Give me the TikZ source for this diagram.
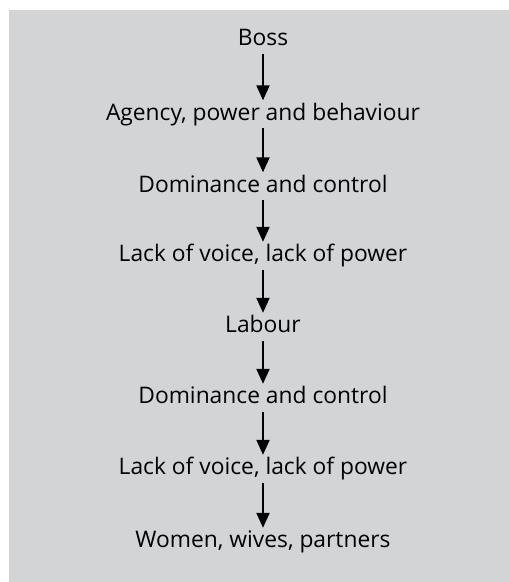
\documentclass[tikz,border=0pt]{standalone}
\usepackage{fontspec}
\setmainfont{Open Sans}
\usetikzlibrary{arrows.meta}
\definecolor{boxgray}{RGB}{211,212,214}

\begin{document}
\begin{tikzpicture}[x=1pt,y=1pt,
  step label/.style={anchor=base,inner sep=0pt,text height=15.5pt,text depth=4pt,font=\fontsize{22.8}{26}\selectfont},
  flow/.style={line width=2pt,-{Triangle[width=13pt,length=15pt]},shorten <=4pt,shorten >=4pt}]
% Background box
\useasboundingbox (0,0) rectangle (509,-582);
\fill[boxgray] (9,-10) rectangle (509,-582);

% Chain nodes (top to bottom)
\node[step label] (boss) at (263,-45.5) {Boss};
\node[step label] (agency) at (263,-120) {Agency, power and behaviour};
\node[step label] (dom1) at (263,-192) {Dominance and control};
\node[step label] (lack1) at (263,-261.5) {Lack of voice, lack of power};
\node[step label] (labour) at (263,-332.5) {Labour};
\node[step label] (dom2) at (263,-403.5) {Dominance and control};
\node[step label] (lack2) at (263,-474.5) {Lack of voice, lack of power};
\node[step label] (women) at (263,-547.5) {Women, wives, partners};

% Arrows
\draw[flow] (boss) -- (agency);
\draw[flow] (agency) -- (dom1);
\draw[flow] (dom1) -- (lack1);
\draw[flow] (lack1) -- (labour);
\draw[flow] (labour) -- (dom2);
\draw[flow] (dom2) -- (lack2);
\draw[flow] (lack2) -- (women);

\end{tikzpicture}
\end{document}
